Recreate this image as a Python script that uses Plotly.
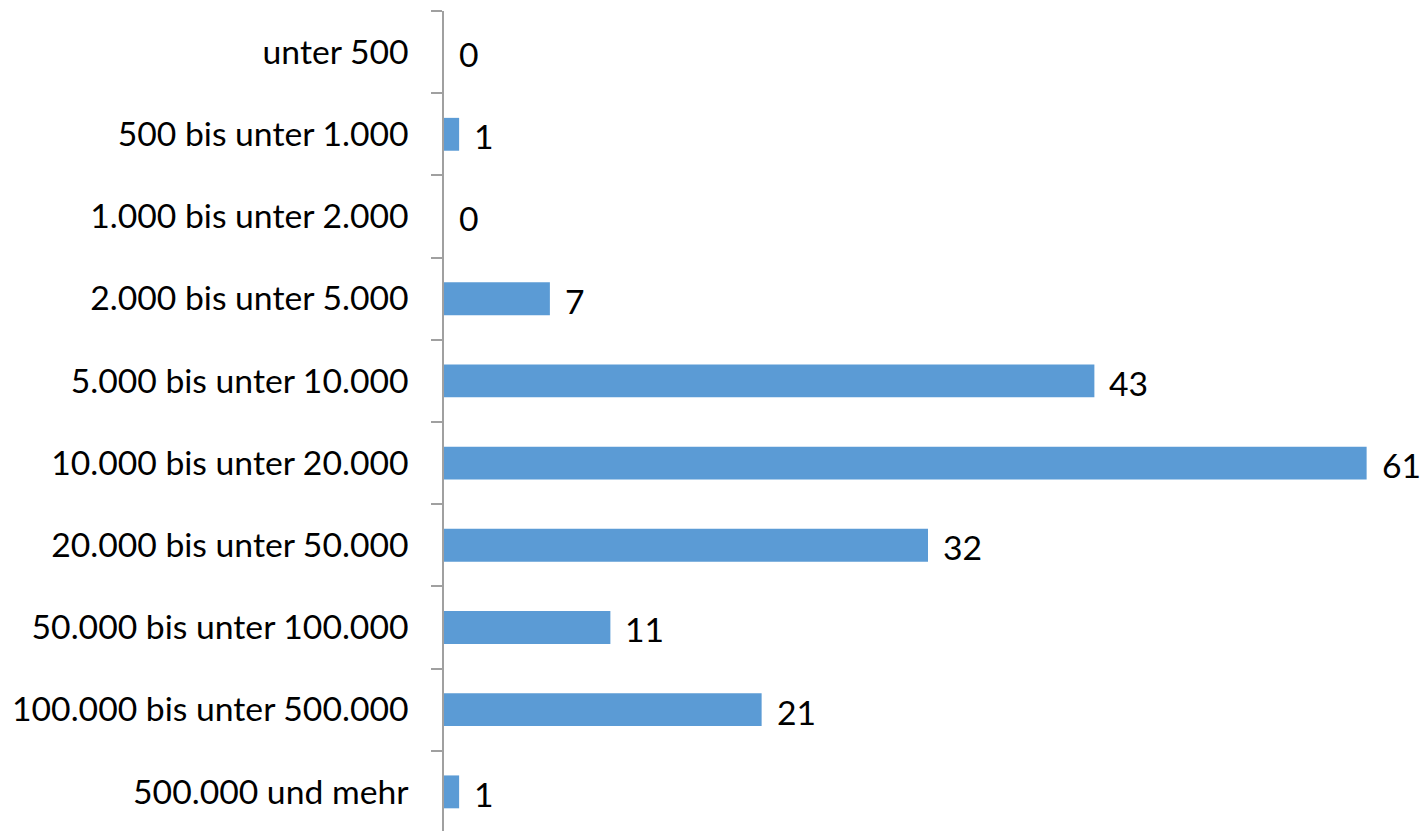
import plotly.graph_objects as go

categories = ["unter 500", "500 bis unter 1.000", "1.000 bis unter 2.000", "2.000 bis unter 5.000",
              "5.000 bis unter 10.000", "10.000 bis unter 20.000", "20.000 bis unter 50.000",
              "50.000 bis unter 100.000", "100.000 bis unter 500.000", "500.000 und mehr"]
values = [0, 1, 0, 7, 43, 61, 32, 11, 21, 1]

FONT = "Lato"
SIZE = 33.7
fig = go.Figure()
fig.add_trace(go.Bar(
    y=categories, x=values, orientation="h",
    marker=dict(color="#5B9BD5", line=dict(width=0)),
    width=0.4, showlegend=False,
))
for c, v in zip(categories, values):
    fig.add_annotation(x=v, y=c, text=str(v), showarrow=False, xanchor="left",
                       xshift=13, yshift=-2, font=dict(family=FONT, size=SIZE, color="black"))

fig.update_layout(
    width=1424, height=831,
    margin=dict(l=444, r=12, t=11, b=0),
    plot_bgcolor="white", paper_bgcolor="white",
    font=dict(family=FONT, size=SIZE, color="black"),
    xaxis=dict(range=[0, 64], visible=False, showgrid=False, zeroline=False),
    yaxis=dict(type="category", range=[9.476, -0.5], showgrid=False, zeroline=False,
               showline=True, linecolor="#A0A0A0", linewidth=1.5,
               ticks="outside", tickson="boundaries", ticklen=11, tickcolor="#A0A0A0",
               tickwidth=1.5, ticklabelstandoff=27,
               tickfont=dict(family=FONT, size=SIZE, color="black")),
)
fig.write_html("out.html")
